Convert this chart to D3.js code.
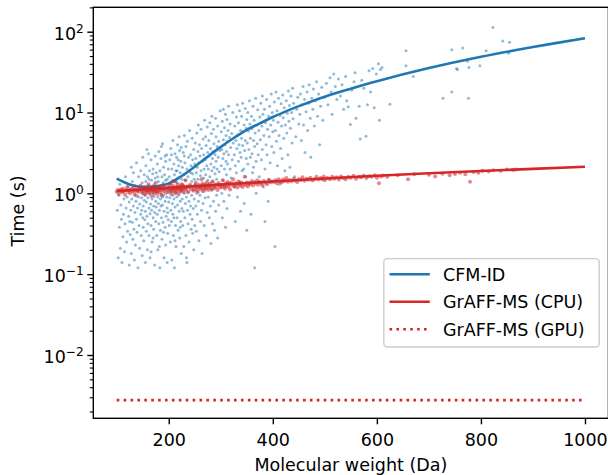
<!DOCTYPE html>
<html>
<head>
<meta charset="utf-8">
<script src="https://d3js.org/d3.v7.min.js"></script>
<style>
    body { margin: 0; background: white; }
    text { font-family: "DejaVu Sans", sans-serif; fill: #000; }
</style>
<script>
    let width = 608;
    let height = 475;
    let plotLeft = 93.3, plotRight = 608.4, plotTop = 7.3, plotBottom = 418.3;
    let fontSize = 17.5;

    // scatter: [molecular weight, time in s]
    let cfmPoints = [
        [101,0.62],[103,0.16],[104,0.95],[105,0.38],[106,1.3],[107,0.21],[108,0.72],[109,0.48],[110,0.14],[111,1.05],[112,0.29],[113,0.55],[114,0.85],[115,0.19],[116,0.42],[117,1.6],[118,0.66],[119,0.25],[120,0.9],[121,0.34],[122,1.2],[123,0.52],[124,0.13],[124,0.78],[125,0.45],
        [126,0.31],[126,1.1],[127,0.62],[128,2.1],[128,0.18],[129,0.85],[130,0.44],[130,1.4],[131,0.27],[132,0.7],[132,1.8],[133,0.36],[134,0.95],[134,0.15],[135,0.58],[136,1.25],[136,0.23],[137,0.8],[138,0.48],[138,2.4],[139,0.33],[140,1.05],[140,0.66],[141,0.12],[142,0.9],[142,1.6],[143,0.4],[144,0.74],[144,0.21],[145,1.15],[146,0.55],[146,1.9],[147,0.3],[148,0.88],[148,0.62],[149,1.35],[149,0.17],[150,0.5],[150,1.02],[150,2.8],
        [151,0.7],[151,0.38],[152,1.2],[152,0.26],[153,0.82],[153,1.7],[154,0.47],[154,0.95],[155,0.14],[155,0.6],[156,1.4],[156,2.2],[157,0.34],[157,0.78],[158,1.05],[158,0.52],[159,0.2],[159,1.6],[160,0.88],[160,0.42],[161,3.1],[161,1.25],[162,0.66],[162,0.3],[163,1.9],[163,0.98],[164,0.56],[164,0.16],[165,1.1],[165,0.74],[166,2.6],[166,0.4],[167,1.45],[167,0.62],[168,0.85],[168,0.25],[169,1.75],[169,1.0],[170,0.5],[170,2.0],[171,0.7],[171,0.36],[172,1.3],[172,0.92],[173,0.13],[173,0.58],[174,1.55],[174,2.9],[175,0.8],[175,0.45],[175,1.15],[158,3.5],[166,0.19],[170,0.28],[162,1.5],
        [176,0.68],[176,1.8],[177,0.3],[177,1.05],[178,2.3],[178,0.55],[179,0.9],[179,0.2],[180,1.4],[180,0.75],[181,3.3],[181,0.42],[182,1.15],[182,0.62],[183,0.12],[183,1.9],[184,0.85],[184,0.35],[185,2.7],[185,1.25],[186,0.5],[186,0.98],[187,1.6],[187,0.27],[188,0.72],[188,4.1],[189,1.35],[189,0.44],[190,0.95],[190,2.1],[191,0.16],[191,0.6],[192,1.7],[192,1.1],[193,0.38],[193,0.8],[194,2.5],[194,0.23],[195,1.28],[195,0.52],[196,0.9],[196,3.0],[197,0.66],[197,1.5],[198,0.32],[198,1.02],[199,2.0],[199,0.47],[200,0.78],[200,1.2],[182,0.22],[186,3.8],[190,0.33],[194,1.45],[198,0.58],[179,1.6],[185,0.7],[193,2.9],[197,0.14],[188,0.9],
        [201,1.6],[201,0.4],[202,2.6],[202,0.88],[203,0.25],[203,1.3],[204,0.62],[204,3.6],[205,1.05],[205,0.45],[206,2.0],[206,0.15],[207,0.75],[207,1.45],[208,4.5],[208,0.55],[209,1.15],[209,0.3],[210,2.3],[210,0.85],[211,0.12],[211,1.7],[212,0.68],[212,3.1],[213,1.0],[213,0.4],[214,1.9],[214,0.22],[215,0.9],[215,2.8],[216,1.35],[216,0.5],[217,0.72],[217,4.0],[218,1.55],[218,0.35],[219,2.2],[219,0.95],[220,0.6],[220,1.2],[221,3.4],[221,0.28],[222,1.8],[222,0.8],[223,0.45],[223,2.5],[224,1.1],[224,0.18],[225,1.5],[225,0.65],[205,3.0],[210,0.5],[214,1.4],[218,2.6],[222,0.38],[208,0.95],[216,1.9],[220,5.0],[212,0.26],[224,3.7],
        [226,2.1],[226,0.85],[227,0.4],[227,1.3],[228,3.2],[228,0.6],[229,1.7],[229,0.22],[230,5.2],[230,1.0],[231,0.5],[231,2.4],[232,1.45],[232,0.75],[233,0.3],[233,3.8],[234,1.15],[234,0.9],[235,2.0],[235,0.14],[236,0.62],[236,4.4],[237,1.6],[237,0.42],[238,2.8],[238,1.05],[239,0.8],[239,0.25],[240,1.9],[240,6.0],[241,1.25],[241,0.55],[242,3.0],[242,0.7],[243,0.36],[243,2.2],[244,1.4],[244,0.95],[245,4.8],[245,0.48],[246,1.75],[246,2.6],[247,0.65],[247,1.1],[248,0.2],[248,3.5],[249,1.5],[249,0.85],[250,2.3],[250,0.4],[230,2.9],[236,1.2],[242,1.8],[246,0.32],[234,0.16],
        [251,1.3],[251,4.2],[252,0.7],[252,2.7],[253,1.8],[253,0.34],[254,5.6],[254,1.0],[255,2.1],[255,0.55],[256,3.3],[256,1.5],[257,0.8],[257,7.0],[258,2.4],[258,0.26],[259,1.2],[259,4.0],[260,0.95],[260,2.9],[261,1.65],[261,0.45],[262,6.2],[262,1.9],[263,0.62],[263,3.6],[264,1.35],[264,0.18],[265,2.5],[265,1.05],[266,4.7],[266,0.75],[267,1.55],[267,3.0],[268,0.4],[268,2.0],[269,8.0],[269,1.15],[270,0.88],[270,2.6],[271,5.0],[271,1.7],[272,0.3],[272,3.9],[273,1.25],[273,2.2],[274,0.58],[274,6.6],[275,1.45],[275,3.2],
        [276,2.0],[276,0.9],[277,4.5],[277,1.3],[278,0.5],[278,2.9],[279,7.5],[279,1.6],[280,0.7],[280,3.6],[281,2.3],[281,0.24],[282,5.5],[282,1.1],[283,1.9],[283,9.0],[284,0.42],[284,2.7],[285,3.3],[285,1.4],[286,6.2],[286,0.8],[287,2.1],[287,4.1],[288,1.2],[288,0.35],[289,3.0],[289,1.75],[290,8.5],[290,0.6],[291,2.5],[291,5.0],[292,1.5],[292,0.95],[293,3.8],[293,2.0],[294,0.28],[294,6.8],[295,1.3],[295,2.8],[296,4.4],[296,0.72],[297,1.85],[298,3.4],[299,10.5],
        [301,2.2],[301,5.8],[302,1.0],[302,3.5],[303,0.5],[303,7.8],[304,2.7],[304,1.45],[305,4.6],[305,11.0],[306,0.8],[306,3.1],[307,2.0],[307,6.5],[308,1.2],[308,4.0],[309,9.5],[309,0.38],[310,2.5],[310,5.2],[311,1.7],[311,3.3],[312,0.65],[312,8.2],[313,4.4],[313,2.3],[314,1.35],[314,6.0],[315,3.0],[315,12.0],[316,0.95],[317,4.9],[318,2.0],[318,7.2],[319,3.7],[320,1.55],[321,5.5],[322,2.6],[323,10.0],[324,4.2],
        [326,3.0],[326,1.2],[327,6.8],[328,2.2],[328,0.45],[329,4.5],[330,8.8],[330,1.8],[331,3.6],[332,12.5],[332,0.9],[333,5.3],[334,2.5],[334,7.5],[335,4.0],[336,1.4],[336,10.5],[337,3.2],[338,6.0],[338,0.6],[339,2.8],[340,4.8],[340,9.0],[341,1.9],[342,3.9],[342,13.0],[343,5.8],[344,2.0],[345,0.75],[345,7.0],[346,3.4],[347,11.2],[347,4.5],[348,1.6],[349,6.4],[349,2.7],[350,8.2],[350,0.35],
        [351,4.2],[352,2.3],[352,10.0],[353,5.9],[354,1.3],[354,3.5],[355,14.0],[356,7.2],[357,2.8],[357,4.8],[358,0.55],[359,9.0],[360,3.1],[360,6.3],[361,1.8],[362,12.0],[363,4.5],[363,2.1],[364,8.0],[365,0.12],[365,3.8],[366,5.6],[367,15.0],[368,2.5],[368,1.0],[369,7.0],[370,4.1],[371,10.8],[372,3.0],[373,6.0],[374,1.6],[375,8.8],
        [376,4.6],[377,13.0],[378,2.6],[379,6.8],[380,3.5],[380,16.0],[381,9.5],[382,1.2],[383,5.2],[384,11.0],[385,2.0],[386,7.5],[387,4.0],[388,14.5],[389,3.0],[390,6.2],[391,0.8],[392,9.0],[393,5.0],[394,12.0],[395,2.4],[396,7.0],[397,17.0],[398,3.8],[399,10.0],[400,5.8],[385,0.45],[393,1.5],
        [401,8.0],[402,3.2],[403,13.5],[404,0.22],[405,6.0],[406,18.0],[407,4.4],[408,10.5],[409,2.2],[410,7.6],[411,15.0],[412,5.2],[413,1.3],[414,9.2],[415,3.6],[416,12.8],[417,6.8],[418,2.7],[419,16.5],[420,8.6],[421,4.8],[422,11.5],[423,1.9],[424,7.0],
        [426,14.0],[427,5.6],[428,9.8],[429,3.0],[430,18.5],[431,7.8],[432,12.2],[433,2.1],[434,6.4],[435,16.0],[436,10.0],[437,4.2],[438,20.0],[439,8.4],[440,13.0],[442,1.6],[444,5.0],[446,11.0],[448,15.5],[450,7.2],
        [452,9.5],[453,17.0],[455,4.5],[456,12.5],[458,21.0],[459,7.0],[461,14.5],[462,3.2],[464,10.2],[466,18.0],[467,6.0],[469,13.0],[470,22.0],[472,8.5],[473,2.8],[475,15.0],
        [477,11.0],[478,19.5],[480,6.8],[482,14.0],[484,24.0],[486,9.0],[488,17.0],[490,4.0],[492,12.0],[494,20.5],[496,8.0],[499,15.5],
        [503,23.0],[506,12.5],[510,27.0],[512,18.0],[514,9.5],[517,30.0],[520,21.0],[523,14.5],[526,26.0],[530,16.0],[533,22.0],[536,11.0],[540,28.0],[542,14.0],[545,11.8],[549,7.1],[552,19.0],[556,24.0],[560,8.5],[558,31.0],
        [566,12.0],[568,4.7],[571,25.0],[575,20.0],[579,5.1],[582,12.5],[585,33.0],[588,18.0],[592,35.0],[595,11.5],[599,30.0],[603,40.0],[605,8.0],[607,34.0],[610,36.0],[625,12.7],
        [656,58.0],[656,38.0],[670,28.0],[727,15.0],[744,18.0],[744,60.0],[753,35.0],[755,34.0],[765,63.0],[774,43.0],[776,15.0],[777,36.0],[798,38.0],[810,58.0],[823,113.0],[842,77.0],[855,74.0],[853,54.0]
    ];

    let graffPoints = [
        [100,1.05],[102,1.1],[104,0.98],[106,1.08],[108,1.12],[110,1.03],[112,1.15],[114,1.06],[116,0.96],[118,1.1],[120,1.2],[122,1.04],[124,1.09],[126,1.0],[128,1.13],[130,1.07],[132,1.18],[134,1.02],[136,1.11],[138,0.94],[140,1.08],[142,1.16],[144,1.05],[146,1.25],[148,1.1],
        [150,1.0],[151,1.14],[152,1.07],[154,1.2],[155,0.97],[156,1.1],[157,1.04],[158,1.16],[160,1.09],[161,1.3],[162,1.02],[163,1.12],[164,1.06],[166,1.18],[167,0.93],[168,1.11],[169,1.05],[170,1.22],[171,1.08],[172,1.14],[173,1.0],[174,1.1],[175,1.35],[176,1.06],[177,1.17],[178,0.99],[179,1.12],[180,1.08],[182,1.2],[183,1.03],[184,1.15],[185,1.1],[186,0.95],[188,1.13],[189,1.26],[190,1.07],[192,1.18],[194,1.02],[196,1.14],[198,1.09],
        [200,1.2],[201,1.05],[202,1.15],[203,1.32],[204,1.1],[205,0.98],[206,1.17],[207,1.12],[208,1.24],[209,1.06],[210,1.16],[211,1.4],[212,1.1],[213,1.02],[214,1.2],[215,1.14],[216,1.08],[217,1.28],[218,1.17],[219,1.0],[220,1.12],[221,1.22],[222,1.15],[223,1.06],[224,1.3],[225,1.18],[226,1.1],[227,1.25],[228,1.04],[229,1.2],[230,1.14],[232,1.45],[233,1.1],[235,1.22],[237,1.03],[239,1.18],[241,1.28],[243,1.12],[246,1.2],[248,1.08],
        [250,1.24],[251,1.15],[252,1.35],[254,1.1],[255,1.2],[256,1.05],[258,1.28],[259,1.17],[260,1.22],[262,1.12],[263,1.5],[264,1.25],[265,1.16],[267,1.3],[268,1.08],[269,1.2],[270,1.27],[272,1.14],[273,1.36],[274,1.22],[276,1.1],[277,1.26],[278,1.18],[280,1.32],[281,1.2],[283,1.12],[284,1.4],[286,1.24],[288,1.16],[290,1.3],[292,1.21],[294,1.1],[296,1.34],[298,1.25],[299,1.18],
        [301,1.28],[303,1.2],[304,1.45],[306,1.26],[308,1.15],[309,1.32],[311,1.24],[313,1.38],[315,1.2],[316,1.3],[318,1.12],[320,1.35],[322,1.27],[324,1.5],[326,1.22],[328,1.33],[330,1.28],[332,1.18],[334,1.4],[336,1.3],[338,1.24],[340,1.36],[342,1.2],[344,1.31],[346,1.6],[348,1.27],[350,1.36],[352,1.22],[355,1.34],[357,1.3],[360,1.42],[362,1.25],[365,1.37],[367,1.32],[370,1.45],[372,1.28],[375,1.38],[378,1.34],[380,1.26],[383,1.42],[386,1.35],[389,1.3],[392,1.46],[395,1.37],[398,1.4],
        [402,1.38],[405,1.45],[408,1.33],[411,1.5],[414,1.4],[417,1.36],[420,1.48],[423,1.42],[426,1.55],[429,1.39],[432,1.46],[436,1.41],[440,1.52],[443,1.44],[447,1.38],[450,1.5],[454,1.46],[457,1.58],[461,1.43],[465,1.52],[468,1.47],[472,1.56],[476,1.44],[480,1.5],[484,1.6],[488,1.48],[492,1.55],[495,1.5],[498,1.62],[500,1.45],
        [505,1.55],[510,1.5],[514,1.6],[518,1.52],[522,1.58],[527,1.48],[531,1.62],[535,1.55],[540,1.5],[545,1.6],[550,1.56],[555,1.65],[560,1.52],[566,1.6],[570,1.58],[575,1.66],[580,1.55],[585,1.63],[590,1.6],[596,1.68],[600,1.56],[604,1.33],[608,1.62],[612,1.66],[620,1.6],
        [640,1.68],[660,1.5],[672,1.72],[700,1.7],[712,1.62],[726,1.75],[740,1.68],[750,1.74],[760,1.8],[770,1.72],[779,1.39],[786,1.84],[795,1.8],[803,1.9],[815,1.86],[824,1.93],[838,1.9],[850,1.97],[862,1.95],[867,1.98]
    ];

    // fitted curves
    let cfmFitMass = [100,125,150,175,200,225,250,275,300,325,350,375,400,425,450,500,550,600,700,800,900,1000];
    let cfmFitTime = [1.52,1.29,1.2,1.22,1.33,1.64,2.14,2.85,3.76,4.84,6.1,7.33,8.81,10.35,12.0,15.7,19.7,24.4,35.5,49,64.6,83.2];
    let graffFitMass = [100,200,300,400,500,600,700,800,900,1000];
    let graffFitTime = [1.07,1.17,1.29,1.40,1.53,1.65,1.77,1.89,2.01,2.13];
    let gpuMass = [100,1000];
    let gpuTime = [0.00277,0.00277];

    let xTicks = [200,400,600,800,1000];
    let yExponents = [-2,-1,0,1,2];
    let legendNames = ["CFM-ID","GrAFF-MS (CPU)","GrAFF-MS (GPU)"];

    let blue = "#1f77b4";
    let red = "#d62728";

    function draw() {
        let svg = d3.select("body").append("svg")
            .attr("width", width)
            .attr("height", height)
            .style("background-color", "white");

        let x = d3.scaleLinear().domain([55, 1045]).range([plotLeft, plotRight]);
        let y = d3.scaleLog().domain([Math.pow(10, -2.783), Math.pow(10, 2.302)]).range([plotBottom, plotTop]);

        svg.append("clipPath").attr("id", "plotclip")
            .append("rect")
            .attr("x", plotLeft).attr("y", plotTop)
            .attr("width", plotRight - plotLeft).attr("height", plotBottom - plotTop);

        let plot = svg.append("g").attr("clip-path", "url(#plotclip)");

        let line = d3.line()
            .x(function (d) { return x(d[0]); })
            .y(function (d) { return y(d[1]); });

        // CFM-ID scatter and fit
        plot.append("g").selectAll("circle")
            .data(cfmPoints)
            .enter()
            .append("circle")
            .attr("cx", function (d) { return x(d[0]); })
            .attr("cy", function (d) { return y(d[1]); })
            .attr("r", 1.5)
            .attr("fill", blue)
            .attr("fill-opacity", 0.5);

        plot.append("path")
            .datum(d3.zip(cfmFitMass, cfmFitTime))
            .attr("d", line.curve(d3.curveCatmullRom.alpha(0.5)))
            .attr("fill", "none")
            .attr("stroke", blue)
            .attr("stroke-width", 2.6);

        // GrAFF-MS scatter and fit
        plot.append("g").selectAll("circle")
            .data(graffPoints)
            .enter()
            .append("circle")
            .attr("cx", function (d) { return x(d[0]); })
            .attr("cy", function (d) { return y(d[1]); })
            .attr("r", 2)
            .attr("fill", red)
            .attr("fill-opacity", 0.55);

        plot.append("path")
            .datum(d3.zip(graffFitMass, graffFitTime))
            .attr("d", line.curve(d3.curveLinear))
            .attr("fill", "none")
            .attr("stroke", red)
            .attr("stroke-width", 2.6);

        plot.append("path")
            .datum(d3.zip(gpuMass, gpuTime))
            .attr("d", line.curve(d3.curveLinear))
            .attr("fill", "none")
            .attr("stroke", red)
            .attr("stroke-width", 2.6)
            .attr("stroke-dasharray", "2.6,4.3");

        // x axis
        let xAxis = svg.append("g")
            .attr("transform", "translate(0," + plotBottom + ")")
            .call(d3.axisBottom(x).tickValues(xTicks).tickSize(6).tickSizeOuter(0).tickFormat(d3.format("d")));
        xAxis.select(".domain").remove();
        xAxis.selectAll(".tick line").attr("stroke-width", 1.4);
        xAxis.selectAll(".tick text")
            .attr("y", 28.2).attr("dy", 0)
            .style("font-size", fontSize + "px")
            .style("font-family", "DejaVu Sans");

        // y axis, minor ticks first
        let minors = [];
        for (let e = -3; e <= 2; e++) {
            for (let k = 2; k <= 9; k++) {
                let v = k * Math.pow(10, e);
                if (v > y.domain()[0] && v < y.domain()[1]) minors.push(v);
            }
        }
        let yMinor = svg.append("g")
            .attr("transform", "translate(" + plotLeft + ",0)")
            .call(d3.axisLeft(y).tickValues(minors).tickSize(3.5).tickSizeOuter(0).tickFormat(""));
        yMinor.select(".domain").remove();
        yMinor.selectAll(".tick line").attr("stroke-width", 1.1);

        let yAxis = svg.append("g")
            .attr("transform", "translate(" + plotLeft + ",0)")
            .call(d3.axisLeft(y).tickValues(yExponents.map(function (e) { return Math.pow(10, e); }))
                .tickSize(6).tickSizeOuter(0).tickFormat(""));
        yAxis.select(".domain").remove();
        yAxis.selectAll(".tick line").attr("stroke-width", 1.4);
        yAxis.selectAll(".tick text").remove();
        yAxis.selectAll(".tick").each(function (d, i) {
            let t = d3.select(this).append("text")
                .attr("x", -9.5)
                .attr("y", 7.4)
                .attr("text-anchor", "end")
                .style("font-size", fontSize + "px")
                .style("font-family", "DejaVu Sans")
                .attr("fill", "#000");
            t.append("tspan").text("10");
            let ex = yExponents[i];
            t.append("tspan")
                .attr("dy", -7)
                .style("font-size", "12.2px")
                .text(ex < 0 ? "\u2212" + (-ex) : String(ex));
        });

        // frame
        svg.append("rect")
            .attr("x", plotLeft).attr("y", plotTop)
            .attr("width", plotRight - plotLeft).attr("height", plotBottom - plotTop)
            .attr("fill", "none")
            .attr("stroke", "#000")
            .attr("stroke-width", 1.4);

        // axis titles
        svg.append("text")
            .attr("x", (plotLeft + plotRight) / 2)
            .attr("y", 471)
            .attr("text-anchor", "middle")
            .style("font-size", fontSize + "px")
            .text("Molecular weight (Da)");

        svg.append("text")
            .attr("transform", "translate(24," + 211 + ") rotate(-90)")
            .attr("text-anchor", "middle")
            .style("font-size", fontSize + "px")
            .text("Time (s)");

        // legend
        let legend = svg.append("g");
        legend.append("rect")
            .attr("x", 383.8).attr("y", 258.6)
            .attr("width", 215.4).attr("height", 88.4)
            .attr("rx", 3.5)
            .attr("fill", "white").attr("fill-opacity", 0.8)
            .attr("stroke", "#cccccc").attr("stroke-width", 1.4);

        let rows = legend.selectAll(".row")
            .data(legendNames)
            .enter()
            .append("g")
            .attr("transform", function (d, i) { return "translate(0," + (274.3 + i * 27.5) + ")"; });

        rows.append("line")
            .attr("x1", 389.5).attr("x2", 429.8)
            .attr("y1", 0).attr("y2", 0)
            .attr("stroke", function (d, i) { return i == 0 ? blue : red; })
            .attr("stroke-width", 2.6)
            .attr("stroke-dasharray", function (d, i) { return i == 2 ? "2.6,4.3" : null; });

        rows.append("text")
            .attr("x", 443)
            .attr("y", 6.3)
            .style("font-size", fontSize + "px")
            .text(function (d) { return d; });
    }
</script>
</head>
<body>
<script>
    draw();
</script>
</body>
</html>
